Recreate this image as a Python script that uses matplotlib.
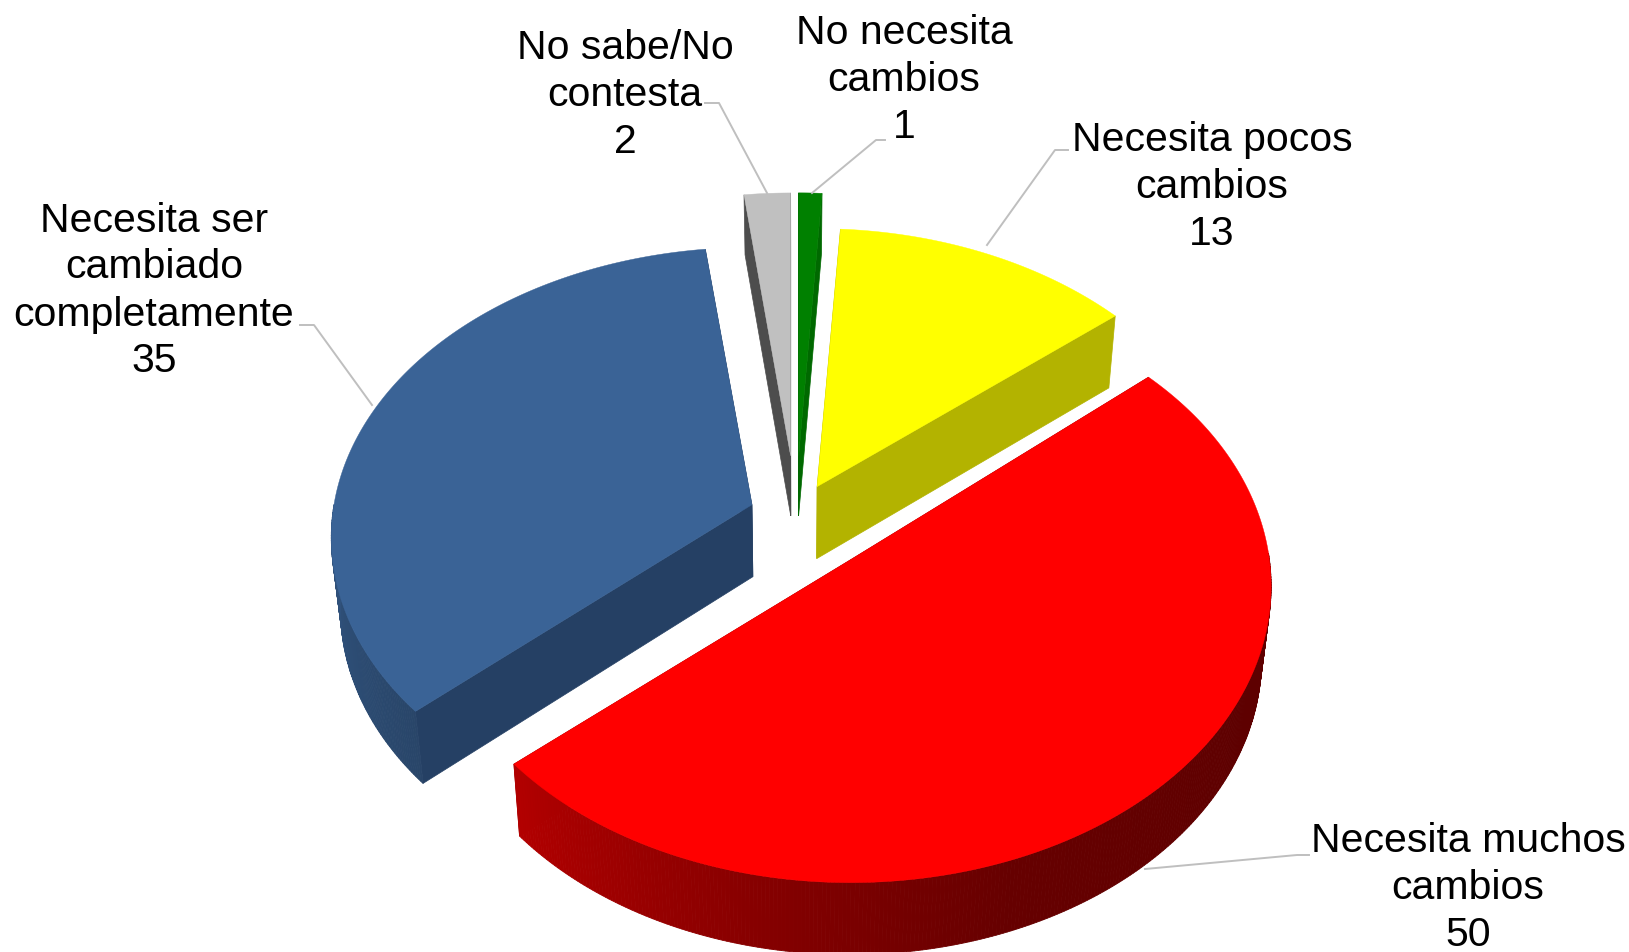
import numpy as np
import matplotlib
matplotlib.use('Agg')
import matplotlib.pyplot as plt

plt.rcParams['font.family'] = ['Liberation Sans', 'DejaVu Sans']

# data, clockwise from 12 o'clock
names = ['No necesita\ncambios', 'Necesita pocos\ncambios', 'Necesita muchos\ncambios',
         'Necesita ser\ncambiado\ncompletamente', 'No sabe/No\ncontesta']
values = [1, 13, 50, 35, 2]

# styles
top_colors = ['#008000', '#ffff00', '#ff0000', '#3a6396', '#c0c0c0']
cut_colors = ['#006900', '#b3b300', '#a00000', '#254064', '#4d4d4d']
explode = [86, 47, 83, 47, 86]
depth = [60, 72, 72, 72, 60]
tilts = [0.70, 0.70, 0.70, 0.685, 0.70]
rim_lift = [0, -5, 7, 0, 0]  # rim moved against the tip, keeps the red edge straight
draw_order = [4, 0, 1, 3, 2]

# leader lines and label centres, pixels
leaders = [[(812, 193), (876, 140), (885, 140)],
           [(987, 245), (1055, 150), (1068, 150)],
           [(1145, 869), (1297, 855), (1309, 855)],
           [(372, 405), (314, 325), (300, 325)],
           [(767, 193), (719, 103), (705, 103)]]
label_pos = [(904, 78), (1212, 185), (1468, 886), (154, 289), (625, 93)]

cx, cy = 796, 516
R = 418
persp = 0.1127
shrink = 0.98  # bottom face is slightly narrower


def project(theta, ax0, ay0, tilt, z=0):
    # theta in degrees clockwise from top
    t = np.radians(theta)
    X, Y = np.sin(t), np.cos(t)
    d = 1 + persp * Y
    x = ax0 + R * X / d
    y = ay0 - R * tilt * Y / d
    if z:
        x = cx + shrink * (x - cx)
        y = y + z
    return x, y


def rim_shade(theta):
    # light comes from the left of the picture
    return np.interp(theta, [50, 120, 160, 190, 228, 250, 290, 360],
                     [0.37, 0.37, 0.40, 0.52, 0.70, 0.78, 0.90, 0.9])


fig = plt.figure(figsize=(16.29, 9.52), dpi=100)
ax = fig.add_axes([0, 0, 1, 1])
ax.set_xlim(0, 1629)
ax.set_ylim(952, 0)
ax.axis('off')

angles = np.cumsum([0] + values) / sum(values) * 360

for i in draw_order:
    a0, a1 = angles[i], angles[i + 1]
    mid = np.radians((a0 + a1) / 2)
    tip_x = cx + explode[i] * np.sin(mid)
    tip_y = cy - explode[i] * np.cos(mid) * tilts[i]
    rim_y = tip_y - rim_lift[i]
    h = depth[i]

    # cut faces
    for a in (a0, a1):
        x1, y1 = project(a, tip_x, rim_y, tilts[i])
        x2, y2 = project(a, tip_x, rim_y, tilts[i], h)
        x3, y3 = cx + shrink * (tip_x - cx), tip_y + h
        ax.fill([tip_x, x1, x2, x3], [tip_y, y1, y2, y3], color=cut_colors[i], lw=0.5)

    # outer rim, front part only gets a gradient
    th = np.linspace(a0, a1, max(int(a1 - a0) * 2, 2))
    base = np.array(matplotlib.colors.to_rgb(top_colors[i]))
    for t0, t1 in zip(th[:-1], th[1:]):
        if 90 > t0 or t0 > 270:
            continue
        xa, ya = project(t0, tip_x, rim_y, tilts[i])
        xb, yb = project(t1, tip_x, rim_y, tilts[i])
        xc, yc = project(t1, tip_x, rim_y, tilts[i], h)
        xd, yd = project(t0, tip_x, rim_y, tilts[i], h)
        ax.fill([xa, xb, xc, xd], [ya, yb, yc, yd], color=base * rim_shade((t0 + t1) / 2), lw=0.6)

    # top face
    th = np.linspace(a0, a1, max(int(a1 - a0) * 2, 4))
    xs, ys = project(th, tip_x, rim_y, tilts[i])
    ax.fill(np.r_[tip_x, xs], np.r_[tip_y, ys], color=top_colors[i], lw=0.3)

for pts in leaders:
    px, py = zip(*pts)
    ax.plot(px, py, color='#bfbfbf', lw=1.4, solid_joinstyle='round')

for name, val, (lx, ly) in zip(names, values, label_pos):
    ax.text(lx, ly + 2, f'{name}\n{val}', ha='center', va='center', fontsize=29.5,
            color='black', linespacing=1.30)

fig.savefig('out.png', dpi=100)
